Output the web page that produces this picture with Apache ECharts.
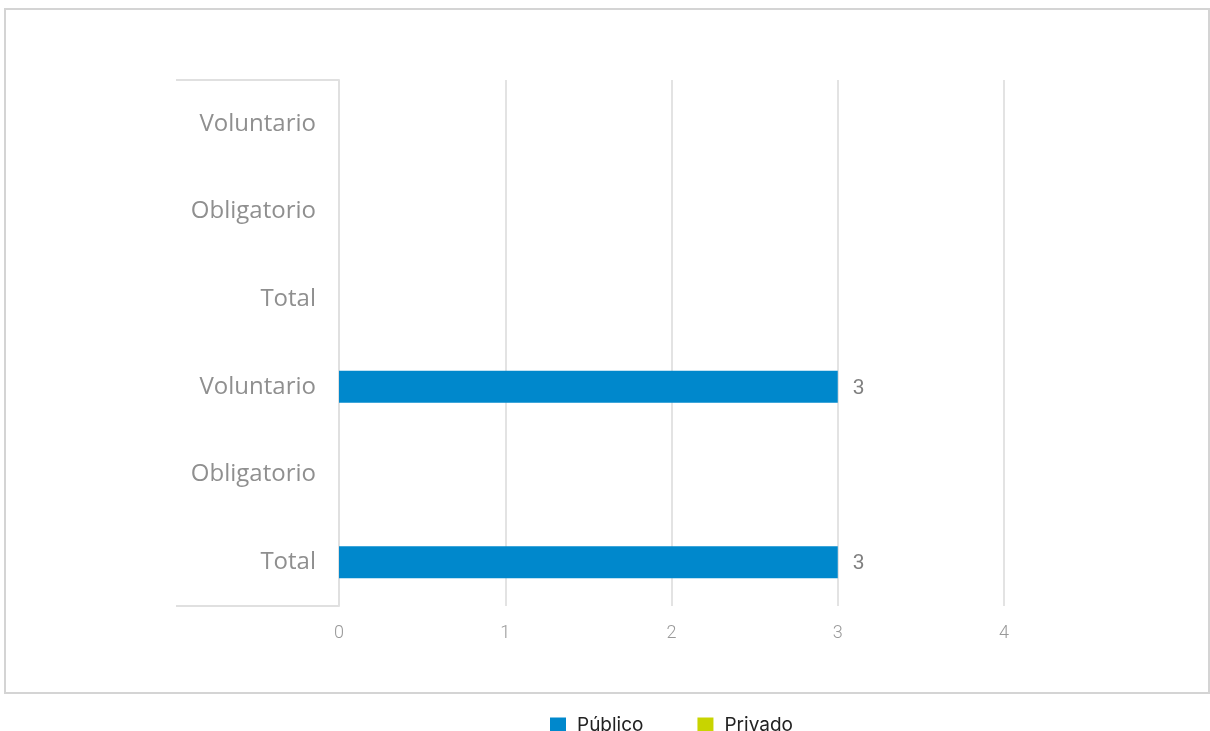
<!DOCTYPE html>
<html>
<head>
<meta charset="utf-8">
<script src="https://cdn.jsdelivr.net/npm/echarts@6/dist/echarts.min.js"></script>
<style>
html,body{margin:0;padding:0;background:#fff;}
#c{width:1210px;height:731px;}
</style>
</head>
<body>
<div id="c"></div>
<script>
const categories = ['Total', 'Obligatorio', 'Voluntario', 'Total', 'Obligatorio', 'Voluntario'];
const publico = [3, null, 3, null, null, null];
const privado = [null, null, null, null, null, null];
const xTicks = [0, 1, 2, 3, 4];
const seriesNames = ['Público', 'Privado'];

const chart = echarts.init(document.getElementById('c'));
chart.setOption({
  animation: false,
  backgroundColor: '#fff',
  graphic: [{
    type: 'rect',
    shape: { x: 5, y: 9, width: 1204, height: 684 },
    style: { fill: 'none', stroke: '#d4d4d4', lineWidth: 2 },
    silent: true, z: -1
  }],
  legend: {
    top: 711,
    left: 545,
    itemWidth: 16,
    itemHeight: 16,
    itemGap: 54,
    icon: 'rect',
    textStyle: { fontFamily: 'Inter', fontSize: 19, color: '#222', padding: [0, 0, 0, 6] },
    data: seriesNames
  },
  grid: { left: 339, right: 206, top: 80, bottom: 125, containLabel: false },
  xAxis: {
    type: 'value',
    min: xTicks[0],
    max: xTicks[xTicks.length - 1],
    interval: 1,
    axisLine: { show: false },
    axisTick: { show: false },
    splitLine: { lineStyle: { color: '#e3e3e3', width: 2 } },
    axisLabel: { color: '#999', fontSize: 18, fontFamily: 'Roboto', fontWeight: 300, margin: 18 }
  },
  yAxis: {
    type: 'category',
    data: categories,
    axisLine: { show: true, lineStyle: { color: '#e0e0e0', width: 2 } },
    axisTick: { show: true, length: 163, interval: function (i) { return i === 0; }, lineStyle: { color: '#e0e0e0', width: 2 } },
    axisLabel: { color: '#8f8f8f', fontSize: 24, fontFamily: 'Open Sans', fontWeight: 400, margin: 23, interval: 0 },
    splitLine: { show: false }
  },
  series: [{
    name: seriesNames[0],
    type: 'bar',
    data: publico,
    barWidth: 32,
    barGap: '-100%',
    itemStyle: { color: '#0088CC' },
    label: { show: true, position: 'right', distance: 15, offset: [0, 2], color: '#808080', fontSize: 21, fontFamily: 'Roboto' }
  }, {
    name: seriesNames[1],
    type: 'bar',
    data: privado,
    barWidth: 32,
    barGap: '-100%',
    itemStyle: { color: '#C8D400' },
    label: { show: true, position: 'right', distance: 15, offset: [0, 2], color: '#808080', fontSize: 21, fontFamily: 'Roboto' }
  }]
});
</script>
</body>
</html>
